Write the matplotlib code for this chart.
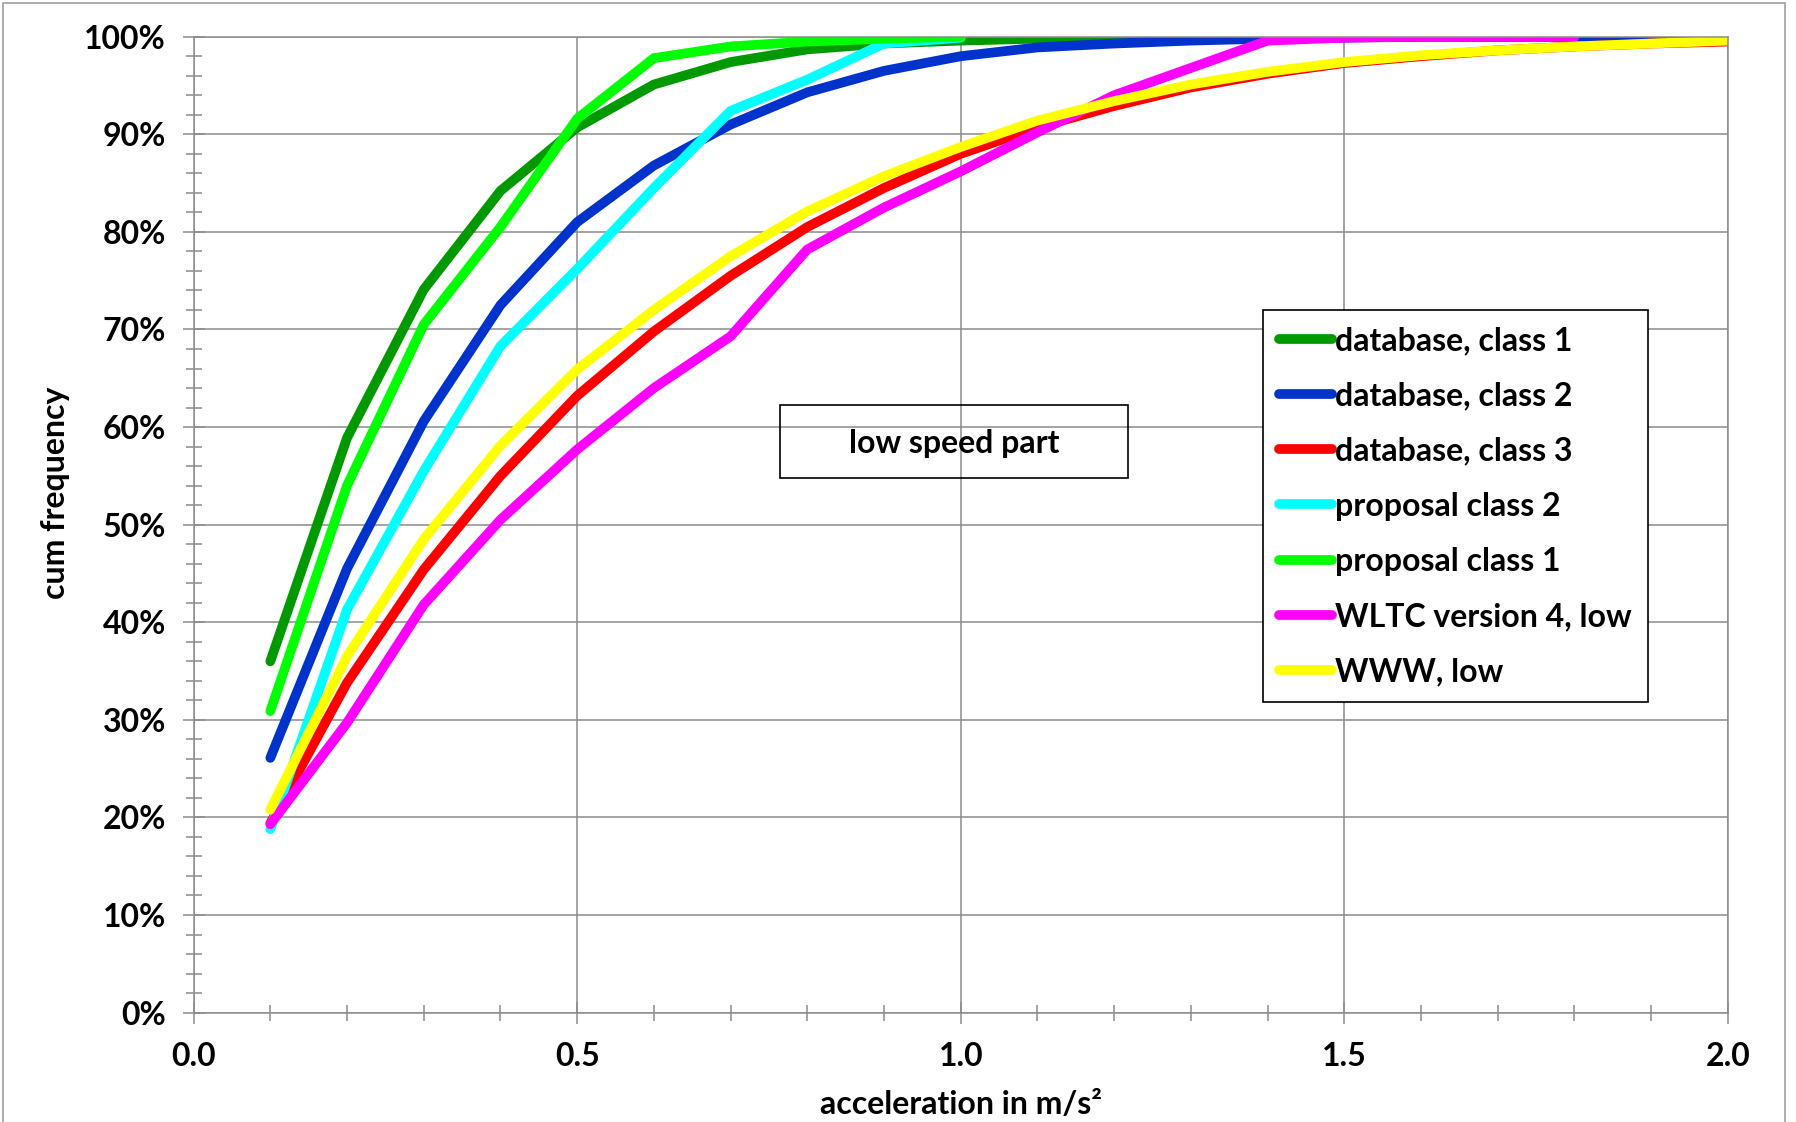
import matplotlib
matplotlib.use("Agg")
import matplotlib.pyplot as plt
from matplotlib.patches import Rectangle
from matplotlib.ticker import MultipleLocator, PercentFormatter, FormatStrFormatter

plt.rcParams['font.family'] = ['Lato', 'DejaVu Sans']
plt.rcParams['font.weight'] = 'bold'

# acceleration classes in m/s^2
accel = [0.1, 0.2, 0.3, 0.4, 0.5, 0.6, 0.7, 0.8, 0.9, 1.0,
         1.1, 1.2, 1.3, 1.4, 1.5, 1.6, 1.7, 1.8, 1.9, 2.0]

# cumulative frequencies in %
db_class1 = [36.0, 58.9, 74.1, 84.2, 90.7, 95.1, 97.4, 98.7, 99.3, 99.6,
             99.8, 99.9, 100, 100, 100, 100, 100, 100, 100, 100]
db_class2 = [26.1, 45.5, 60.6, 72.5, 81.0, 86.8, 91.0, 94.3, 96.5, 98.0,
             98.9, 99.3, 99.6, 99.8, 99.9, 100, 100, 100, 100, 100]
db_class3 = [19.4, 33.8, 45.4, 55.0, 63.2, 69.8, 75.5, 80.5, 84.5, 88.0,
             90.7, 92.9, 94.8, 96.2, 97.3, 98.0, 98.6, 99.0, 99.3, 99.5]
prop_class2 = [18.8, 41.3, 55.5, 68.3, 76.2, 84.5, 92.4, 95.6, 99.3, 99.9]
prop_class1 = [30.9, 54.0, 70.5, 80.5, 91.6, 97.8, 99.0, 99.5, 99.8, 100]
wltc_v4_low = [19.3, 29.7, 41.8, 50.5, 57.7, 64.0, 69.3, 78.2, 82.5, 86.2,
               90.2, 94.0, 96.8, 99.6, 99.9, 100, 100, 100]
www_low = [20.8, 36.5, 48.5, 58.1, 65.9, 72.0, 77.5, 82.1, 85.7, 88.7,
           91.4, 93.4, 95.1, 96.4, 97.4, 98.1, 98.6, 99.0, 99.3, 99.6]

series = [
    ("database, class 1", db_class1, "#009900"),
    ("database, class 2", db_class2, "#0033cc"),
    ("database, class 3", db_class3, "#ff0000"),
    ("proposal class 2", prop_class2, "#00ffff"),
    ("proposal class 1", prop_class1, "#00ff00"),
    ("WLTC version 4, low", wltc_v4_low, "#ff00ff"),
    ("WWW, low", www_low, "#ffff00"),
]

grey = "#8c8c8c"
fs = 23

fig = plt.figure(figsize=(17.96, 11.22), dpi=100)
ax = fig.add_axes([0.1078, 0.0975, 0.8543, 0.8698])

for name, vals, col in series:
    ax.plot(accel[:len(vals)], vals, color=col, lw=7, label=name,
            solid_capstyle="round", solid_joinstyle="miter")

ax.set_xlim(0, 2)
ax.set_ylim(0, 100)
ax.xaxis.set_major_locator(MultipleLocator(0.5))
ax.xaxis.set_minor_locator(MultipleLocator(0.1))
ax.yaxis.set_major_locator(MultipleLocator(10))
ax.yaxis.set_minor_locator(MultipleLocator(2))
ax.xaxis.set_major_formatter(FormatStrFormatter("%.1f"))
ax.yaxis.set_major_formatter(PercentFormatter(100, decimals=0))

ax.grid(True, which="major", color=grey, lw=1.1)
ax.set_axisbelow(True)
for sp in ax.spines.values():
    sp.set_color(grey)
    sp.set_linewidth(1.1)
ax.tick_params(which="major", direction="inout", length=16, width=1.1, color=grey,
               labelsize=fs, pad=12)
ax.tick_params(which="minor", direction="inout", length=11, width=1.1, color=grey)
ax.tick_params(axis="x", which="major", pad=13)

ax.set_xlabel("acceleration in m/s²", fontsize=fs, fontweight="bold", va="center")
ax.set_ylabel("cum frequency", fontsize=fs, fontweight="bold", va="center")
ax.xaxis.set_label_coords(0.5, -0.094)
ax.yaxis.set_label_coords(-0.0903, 0.533)

# text box in the middle of the plot
ax.add_patch(Rectangle((0.382, 0.548), 0.227, 0.075, transform=ax.transAxes,
                       fill=False, ec="black", lw=1.2, zorder=5))
ax.text(0.4955, 0.583, "low speed part", transform=ax.transAxes, ha="center",
        va="center", fontsize=fs, fontweight="bold", zorder=5)

leg = ax.legend(loc="upper left", bbox_to_anchor=(0.697, 0.720), frameon=True,
                fancybox=False, edgecolor="black", framealpha=1,
                prop=dict(family=['Lato', 'DejaVu Sans'], weight="bold", size=fs),
                handlelength=1.66, handletextpad=0.1, labelspacing=0.82,
                borderpad=0.5, borderaxespad=0)
leg.get_frame().set_linewidth(1.2)

# outer chart frame
fig.patches.append(Rectangle((0.0019, -0.02), 0.9917, 1.017, transform=fig.transFigure,
                             fill=False, ec="#a0a0a0", lw=1.2))

fig.savefig("out.png", dpi=100)
